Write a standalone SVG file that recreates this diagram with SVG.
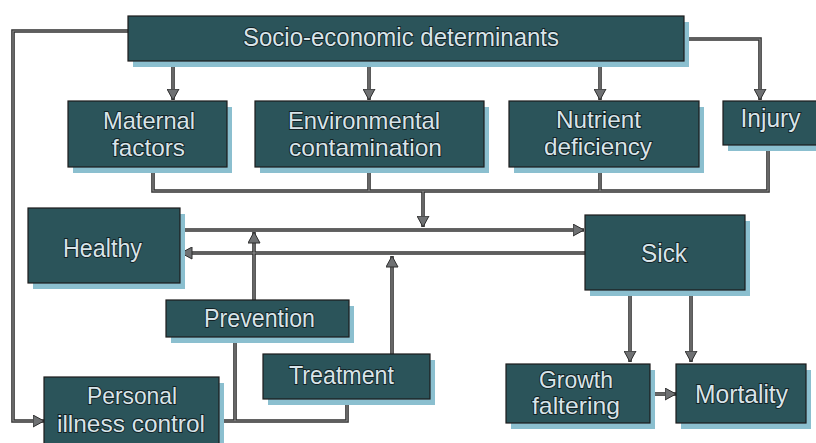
<svg xmlns="http://www.w3.org/2000/svg" width="816" height="443" viewBox="0 0 816 443">
<defs>
<style>
.sh{fill:#8bbfcf}
.bx{fill:#2b545a;stroke:#1c1c1c;stroke-width:1.2}
.t{font-family:"Liberation Sans",Arial,sans-serif;font-size:26px;fill:#d8e4e9;stroke:#132225;stroke-width:1.8;paint-order:stroke fill;text-anchor:middle}
.t2{font-size:24px}
.c{fill:none;stroke:#303030;stroke-width:3.6}
.ci{fill:none;stroke:#8c8c8c;stroke-width:1.2}
.a{marker-end:url(#ah)}
</style>
<marker id="ah" markerUnits="userSpaceOnUse" viewBox="0 0 12 13" refX="11.5" refY="6.5" markerWidth="12" markerHeight="13" orient="auto">
<path d="M0.5,0.5 L11.5,6.5 L0.5,12.5 Z" fill="#6f7173" stroke="#2e2e2e" stroke-width="1"/>
</marker>
</defs>
<rect width="816" height="443" fill="#ffffff"/>

<g id="connectors">
<g id="connector-outlines">
<path class="c" d="M128,31 H13 V421 H44"/>
<path class="c" d="M173,61 V100"/>
<path class="c" d="M369,61 V100"/>
<path class="c" d="M600,61 V100"/>
<path class="c" d="M684,39 H760 V100"/>
<path class="c" d="M153,167 V191 H768 V145"/>
<path class="c" d="M369,167 V191"/>
<path class="c" d="M600,167 V191"/>
<path class="c" d="M423,191 V227"/>
<path class="c" d="M180,230 H584"/>
<path class="c" d="M585,253 H181"/>
<path class="c" d="M254,300 V232"/>
<path class="c" d="M392,354 V256"/>
<path class="c" d="M235,337 V421"/>
<path class="c" d="M347,399 V421 H219"/>
<path class="c" d="M630,290 V362"/>
<path class="c" d="M691,290 V362"/>
<path class="c" d="M650,394 H676"/>
</g>
<g id="connector-cores">
<path class="ci a" d="M128,31 H13 V421 H44"/>
<path class="ci a" d="M173,61 V100"/>
<path class="ci a" d="M369,61 V100"/>
<path class="ci a" d="M600,61 V100"/>
<path class="ci a" d="M684,39 H760 V100"/>
<path class="ci" d="M153,167 V191 H768 V145"/>
<path class="ci" d="M369,167 V191"/>
<path class="ci" d="M600,167 V191"/>
<path class="ci a" d="M423,191 V227"/>
<path class="ci a" d="M180,230 H584"/>
<path class="ci a" d="M585,253 H181"/>
<path class="ci a" d="M254,300 V232"/>
<path class="ci a" d="M392,354 V256"/>
<path class="ci" d="M235,337 V421"/>
<path class="ci" d="M347,399 V421 H219"/>
<path class="ci a" d="M630,290 V362"/>
<path class="ci a" d="M691,290 V362"/>
<path class="ci a" d="M650,394 H676"/>
</g>
</g>

<g id="socio">
<rect class="sh" x="133" y="22" width="556" height="45"/>
<rect class="bx" x="128" y="16" width="556" height="45"/>
<text class="t" x="401" y="46" textLength="316" lengthAdjust="spacingAndGlyphs">Socio-economic determinants</text>
</g>

<g id="maternal">
<rect class="sh" x="73" y="107" width="159" height="66"/>
<rect class="bx" x="68" y="101" width="159" height="66"/>
<text class="t t2" x="149" y="129" textLength="92" lengthAdjust="spacingAndGlyphs">Maternal</text>
<text class="t t2" x="148.5" y="156" textLength="73" lengthAdjust="spacingAndGlyphs">factors</text>
</g>

<g id="environmental">
<rect class="sh" x="260" y="107" width="229" height="66"/>
<rect class="bx" x="255" y="101" width="229" height="66"/>
<text class="t t2" x="364" y="129" textLength="152" lengthAdjust="spacingAndGlyphs">Environmental</text>
<text class="t t2" x="365.5" y="156" textLength="153" lengthAdjust="spacingAndGlyphs">contamination</text>
</g>

<g id="nutrient">
<rect class="sh" x="514" y="107" width="190" height="66"/>
<rect class="bx" x="509" y="101" width="190" height="66"/>
<text class="t t2" x="598.5" y="128" textLength="85" lengthAdjust="spacingAndGlyphs">Nutrient</text>
<text class="t t2" x="598" y="155" textLength="108" lengthAdjust="spacingAndGlyphs">deficiency</text>
</g>

<g id="injury">
<rect class="sh" x="728" y="107" width="95" height="44"/>
<rect class="bx" x="723" y="101" width="95" height="44"/>
<text class="t" x="770.5" y="127" textLength="60" lengthAdjust="spacingAndGlyphs">Injury</text>
</g>

<g id="healthy">
<rect class="sh" x="33" y="214" width="152" height="75"/>
<rect class="bx" x="28" y="208" width="152" height="75"/>
<text class="t" x="102.5" y="257" textLength="79" lengthAdjust="spacingAndGlyphs">Healthy</text>
</g>

<g id="sick">
<rect class="sh" x="590" y="221" width="160" height="75"/>
<rect class="bx" x="585" y="215" width="160" height="75"/>
<text class="t" x="664" y="261.5" textLength="46" lengthAdjust="spacingAndGlyphs">Sick</text>
</g>

<g id="prevention">
<rect class="sh" x="171" y="306" width="183" height="37"/>
<rect class="bx" x="166" y="300" width="183" height="37"/>
<text class="t" x="259.5" y="327" textLength="111" lengthAdjust="spacingAndGlyphs">Prevention</text>
</g>

<g id="treatment">
<rect class="sh" x="268" y="360" width="167" height="45"/>
<rect class="bx" x="263" y="354" width="167" height="45"/>
<text class="t" x="341.5" y="384" textLength="105" lengthAdjust="spacingAndGlyphs">Treatment</text>
</g>

<g id="personal">
<rect class="sh" x="49" y="383" width="175" height="70"/>
<rect class="bx" x="44" y="377" width="175" height="70"/>
<text class="t t2" x="132" y="404" textLength="90" lengthAdjust="spacingAndGlyphs">Personal</text>
<text class="t t2" x="131" y="432" textLength="148" lengthAdjust="spacingAndGlyphs">illness control</text>
</g>

<g id="growth">
<rect class="sh" x="511" y="370" width="144" height="59"/>
<rect class="bx" x="506" y="364" width="144" height="59"/>
<text class="t t2" x="576" y="388" textLength="74" lengthAdjust="spacingAndGlyphs">Growth</text>
<text class="t t2" x="576" y="414" textLength="88" lengthAdjust="spacingAndGlyphs">faltering</text>
</g>

<g id="mortality">
<rect class="sh" x="681" y="370" width="130" height="59"/>
<rect class="bx" x="676" y="364" width="130" height="59"/>
<text class="t" x="741.5" y="403" textLength="93" lengthAdjust="spacingAndGlyphs">Mortality</text>
</g>
</svg>
